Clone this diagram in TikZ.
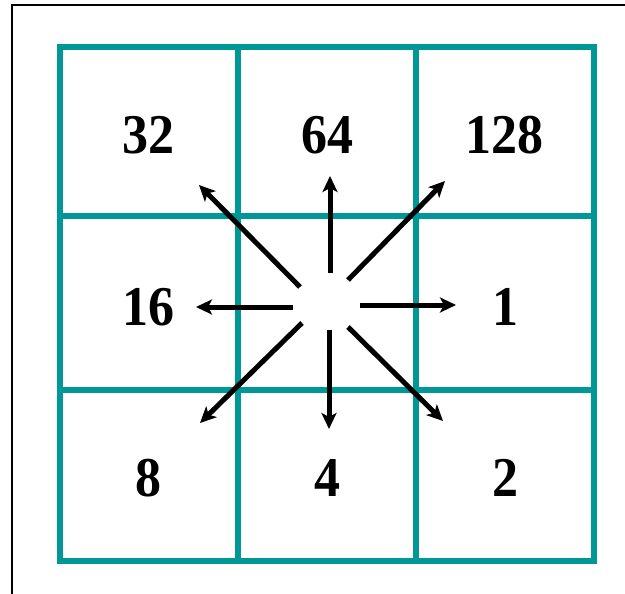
\documentclass[tikz,border=0pt]{standalone}
\usepackage{fontspec}
\setmainfont{Liberation Serif}
\usetikzlibrary{arrows.meta}
\definecolor{gridteal}{RGB}{0,152,150}
\begin{document}
\begin{tikzpicture}[x=1pt,y=-1pt,
  gridline/.style={draw=gridteal,line width=5.5pt},
  numlabel/.style={font=\bfseries\fontsize{52}{52}\selectfont,inner sep=0pt,yscale=1.08},
  ray/.style={line width=5pt,-{Stealth[length=16pt,width=15pt,inset=4pt]}}]
\useasboundingbox (0,0) rectangle (625,594);
% frame
\draw[line width=2pt] (12,600) -- (12,5) -- (630,5);
% grid
\draw[gridline] (60,47) rectangle (594,561);
\draw[gridline] (238,47) -- (238,561);
\draw[gridline] (416,47) -- (416,561);
\draw[gridline] (60,216) -- (594,216);
\draw[gridline] (60,390) -- (594,390);
% labels
\node[numlabel] (n32) at (148,135) {32};
\node[numlabel] (n64) at (327,135) {64};
\node[numlabel] (n128) at (504,135) {128};
\node[numlabel] (n16) at (148,307) {16};
\node[numlabel] (n1) at (505,307) {1};
\node[numlabel] (n8) at (148,478) {8};
\node[numlabel] (n4) at (327,478) {4};
\node[numlabel] (n2) at (505,478) {2};
% arrow endpoints
\coordinate (uS) at (330,273); \coordinate (uE) at (330,176);
\coordinate (rS) at (360,305); \coordinate (rE) at (456,305);
\coordinate (lS) at (293,307); \coordinate (lE) at (196,307);
\coordinate (dS) at (329,330); \coordinate (dE) at (329,429);
\coordinate (neS) at (348,280); \coordinate (neE) at (445,181);
\coordinate (nwS) at (300,287); \coordinate (nwE) at (199,185);
\coordinate (swS) at (302,323); \coordinate (swE) at (200,423);
\coordinate (seS) at (348,327); \coordinate (seE) at (443,421);
\draw[ray] (uS) -- (uE);
\draw[ray] (rS) -- (rE);
\draw[ray] (lS) -- (lE);
\draw[ray] (dS) -- (dE);
\draw[ray] (neS) -- (neE);
\draw[ray] (nwS) -- (nwE);
\draw[ray] (swS) -- (swE);
\draw[ray] (seS) -- (seE);
\end{tikzpicture}
\end{document}
